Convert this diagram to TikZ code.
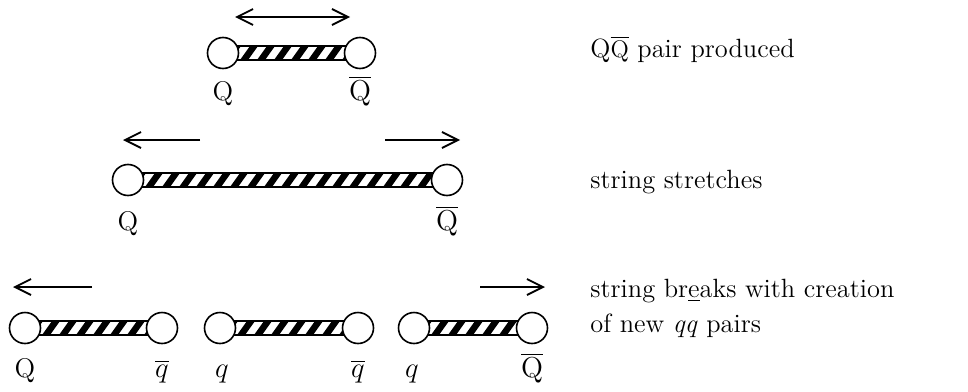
\documentclass[tikz,border=0pt]{standalone}
\usetikzlibrary{arrows.meta,calc}
\pgfdeclarelayer{bg}
\pgfsetlayers{bg,main}
\tikzset{
  quark/.style={circle, draw, fill=white, line width=0.8pt, minimum size=15.5pt, inner sep=0pt},
  lbl/.style={anchor=base, inner sep=0pt, font=\fontsize{13.5}{16}\selectfont},
  note/.style={anchor=base west, inner sep=0pt, align=left, font=\fontsize{13.2}{17.5}\selectfont},
  arr/.style={-{Straight Barb[length=8pt,width=8pt,line width=0.9pt]}, line width=0.8pt},
  dblarr/.style={{Straight Barb[length=8pt,width=8pt,line width=0.9pt]}-{Straight Barb[length=8pt,width=8pt,line width=0.9pt]}, line width=0.8pt}
}
% hatched string between two quark nodes
\newcommand\flux[2]{%
  \begin{pgfonlayer}{bg}
    \begin{scope}
      \clip ($(#1.center)+(0,-7)$) rectangle ($(#2.center)+(0,7)$);
      \foreach \k in {0,...,19}
        \fill ($(#1.center)+(\k*17,7)$) -- ++(8,0) -- ++(10,-14) -- ++(-8,0) -- cycle;
    \end{scope}
    \draw[line width=0.6pt] ($(#1.center)+(0,-7)$) rectangle ($(#2.center)+(0,7)$);
  \end{pgfonlayer}}

\begin{document}
\begin{tikzpicture}[x=0.5pt, y=-0.5pt]
  \useasboundingbox (0,0) rectangle (968,391);

  % pair produced
  \node[quark] (Q1) at (223,53) {};
  \node[quark] (Qb1) at (360,53) {};
  \flux{Q1}{Qb1}
  \coordinate (d1l) at (235,17);
  \coordinate (d1r) at (350,17);
  \draw[dblarr] (d1l) -- (d1r);
  \node[lbl] (tQ1) at (223,100) {Q};
  \node[lbl] (tQb1) at (360,100) {$\overline{\mathrm{Q}}$};
  \node[note] (n1) at (590,57) {Q$\overline{\mathrm{Q}}$ pair produced};

  % string stretches
  \node[quark] (Q2) at (128,180) {};
  \node[quark] (Qb2) at (447,180) {};
  \flux{Q2}{Qb2}
  \coordinate (a2s) at (200,140);
  \coordinate (a2e) at (123,140);
  \coordinate (b2s) at (385,140);
  \coordinate (b2e) at (460,140);
  \draw[arr] (a2s) -- (a2e);
  \draw[arr] (b2s) -- (b2e);
  \node[lbl] (tQ2) at (128,230) {Q};
  \node[lbl] (tQb2) at (447,230) {$\overline{\mathrm{Q}}$};
  \node[note] (n2) at (590,188) {string stretches};

  % string breaks
  \node[quark] (Q3) at (25,328) {};
  \node[quark] (qb3) at (162,328) {};
  \node[quark] (q4) at (220,328) {};
  \node[quark] (qb4) at (358,328) {};
  \node[quark] (q5) at (414,328) {};
  \node[quark] (Qb5) at (532,328) {};
  \flux{Q3}{qb3}
  \flux{q4}{qb4}
  \flux{q5}{Qb5}
  \coordinate (a3s) at (92,287);
  \coordinate (a3e) at (13,287);
  \coordinate (b3s) at (480,287);
  \coordinate (b3e) at (545,287);
  \draw[arr] (a3s) -- (a3e);
  \draw[arr] (b3s) -- (b3e);
  \node[lbl] (tQ3) at (25,377) {Q};
  \node[lbl] (tqb3) at (162,377) {$\overline{q}$};
  \node[lbl] (tq4) at (222,377) {$q$};
  \node[lbl] (tqb4) at (358,377) {$\overline{q}$};
  \node[lbl] (tq5) at (412,377) {$q$};
  \node[lbl] (tQb5) at (532,377) {$\overline{\mathrm{Q}}$};
  \node[note] (n3) at (590,332) {string br\underline{e}aks with creation\\of new \textit{qq} pairs};
\end{tikzpicture}
\end{document}
